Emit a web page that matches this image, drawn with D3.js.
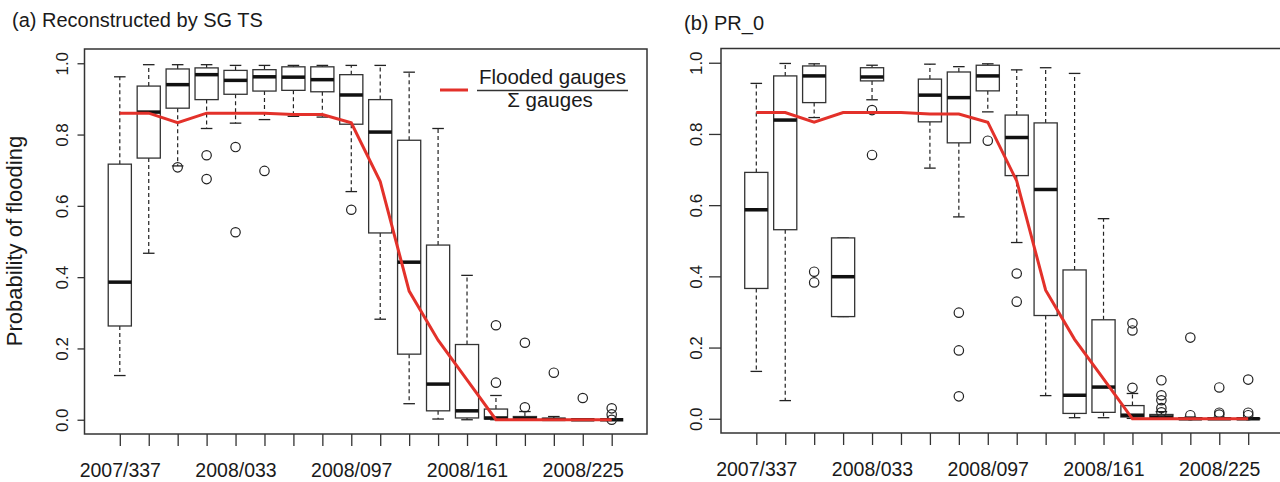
<!DOCTYPE html>
<html>
<head>
<meta charset="utf-8">
<script src="https://cdn.jsdelivr.net/npm/d3@7"></script>
<style>
body{margin:0;background:#fff;}
text{font-family:"Liberation Sans",Arial,sans-serif;fill:#1a1a1a;}
</style>
</head>
<body>
<script>
// 16-day composites
var dates = ["2007/337","2007/353","2008/001","2008/017","2008/033","2008/049","2008/065","2008/081","2008/097",
             "2008/113","2008/129","2008/145","2008/161","2008/177","2008/193","2008/209","2008/225","2008/241"];
// flooded gauges / total gauges
var ratio = [0.86,0.86,0.833,0.86,0.86,0.86,0.856,0.856,0.833,0.668,0.361,0.223,0.112,0,0,0,0,0];

// (a) Reconstructed by SG TS
var aLow  = [0.124,0.467,0.712,0.817,0.832,0.842,0.851,0.849,0.640,0.282,0.045,0.002,0.0,0.0,0,0,0,0];
var aQ1   = [0.263,0.734,0.874,0.898,0.913,0.922,0.924,0.920,0.829,0.524,0.184,0.025,0.005,0.002,0,0,0,0];
var aMed  = [0.386,0.863,0.940,0.968,0.952,0.962,0.961,0.954,0.911,0.807,0.442,0.100,0.025,0.005,0.003,0.001,0,0];
var aQ3   = [0.717,0.936,0.984,0.987,0.980,0.982,0.990,0.990,0.968,0.898,0.784,0.490,0.211,0.030,0.009,0.004,0.001,0];
var aHigh = [0.962,0.996,0.996,0.996,0.994,0.994,0.994,0.994,0.994,0.994,0.975,0.817,0.405,0.068,0.023,0.009,0.003,0];
var aOut  = [[],[],[0.708],[0.742,0.675],[0.765,0.526],[0.698],[],[],[0.589],[],[],[],[],
             [0.265,0.104],[0.216,0.035],[0.132],[0.061],[0.032,0.015,0.0]];

// (b) PR_0  (no box for 2008/049)
var bLow  = [0.133,0.051,0.846,0.287,0.896,null,0.704,0.567,0.862,0.495,0.065,0.003,0.003,0.001,0,0,0,0];
var bQ1   = [0.366,0.531,0.888,0.287,0.949,null,0.834,0.775,0.921,0.683,0.290,0.015,0.018,0.005,0,0,0,0];
var bMed  = [0.587,0.839,0.963,0.399,0.960,null,0.909,0.902,0.963,0.790,0.644,0.066,0.089,0.010,0.005,0,0,0];
var bQ3   = [0.692,0.963,0.991,0.508,0.986,null,0.954,0.974,0.993,0.853,0.831,0.418,0.278,0.037,0.012,0.003,0.002,0.001];
var bHigh = [0.942,0.998,0.997,0.508,0.993,null,0.996,0.989,0.997,0.980,0.986,0.970,0.562,0.071,0.020,0.005,0.004,0.002];
var bOut  = [[],[],[0.413,0.383],[],[0.867,0.741],[],[],[0.298,0.192,0.063],[0.781],[0.408,0.329],[],[],[],
             [0.268,0.248,0.087],[0.108,0.066,0.052,0.03,0.018],[0.228,0.01],[0.088,0.017,0.012],[0.11,0.017,0.01]];

var yTicks = [0,0.2,0.4,0.6,0.8,1.0];
var red = "#e3312a", ink = "#222";

var svg = d3.select("body").append("svg")
            .attr("width",1280)
            .attr("height",482);

function drawPanel(p){
    var g = svg.append("g");
    var x = d3.scaleLinear().domain([-0.22, dates.length + 1.22]).range([p.left, p.right]);
    var y = d3.scaleLinear().domain([-0.04, 1.04]).range([p.bottom, p.top]);
    var unit = x(2) - x(1);
    var bw = unit * 0.8;

    var boxes = dates.map(function(d,i){
        return {i:i+1, low:p.low[i], q1:p.q1[i], med:p.med[i], q3:p.q3[i], high:p.high[i], out:p.out[i]};
    }).filter(function(d){ return d.med != null; });

    var bx = g.selectAll(".box").data(boxes).enter().append("g").attr("class","box");
    // whiskers
    bx.append("line")
      .attr("x1",function(d){return x(d.i);}).attr("x2",function(d){return x(d.i);})
      .attr("y1",function(d){return y(d.q3);}).attr("y2",function(d){return y(d.high);})
      .attr("stroke",ink).attr("stroke-width",1.2).attr("stroke-dasharray","4,3");
    bx.append("line")
      .attr("x1",function(d){return x(d.i);}).attr("x2",function(d){return x(d.i);})
      .attr("y1",function(d){return y(d.q1);}).attr("y2",function(d){return y(d.low);})
      .attr("stroke",ink).attr("stroke-width",1.2).attr("stroke-dasharray","4,3");
    ["high","low"].forEach(function(k){
        bx.append("line")
          .attr("x1",function(d){return x(d.i) - bw/4;}).attr("x2",function(d){return x(d.i) + bw/4;})
          .attr("y1",function(d){return y(d[k]);}).attr("y2",function(d){return y(d[k]);})
          .attr("stroke",ink).attr("stroke-width",1.3);
    });
    bx.append("rect")
      .attr("x",function(d){return x(d.i) - bw/2;})
      .attr("width",bw)
      .attr("y",function(d){return y(d.q3);})
      .attr("height",function(d){return y(d.q1) - y(d.q3);})
      .attr("fill","#fff").attr("stroke","#333").attr("stroke-width",1.3);
    bx.append("line")
      .attr("x1",function(d){return x(d.i) - bw/2;}).attr("x2",function(d){return x(d.i) + bw/2;})
      .attr("y1",function(d){return y(d.med);}).attr("y2",function(d){return y(d.med);})
      .attr("stroke","#111").attr("stroke-width",3.5);
    bx.selectAll("circle").data(function(d){ return d.out.map(function(v){return {i:d.i, v:v};}); })
      .enter().append("circle")
      .attr("cx",function(d){return x(d.i);})
      .attr("cy",function(d){return y(d.v);})
      .attr("r",4.7)
      .attr("fill","none").attr("stroke",ink).attr("stroke-width",1.2);

    // flooded gauges ratio
    var line = d3.line().x(function(d,i){return x(i+1);}).y(function(d){return y(d);});
    g.append("path").datum(ratio)
      .attr("d",line)
      .attr("fill","none").attr("stroke",red).attr("stroke-width",3);

    // frame
    g.append("rect")
      .attr("x",p.left).attr("y",p.top)
      .attr("width",p.right - p.left).attr("height",p.bottom - p.top)
      .attr("fill","none").attr("stroke","#333").attr("stroke-width",1.5);

    var xAxis = g.append("g")
      .attr("transform","translate(0,"+p.bottom+")")
      .call(d3.axisBottom(x).tickValues(d3.range(1, dates.length+1))
             .tickSize(12).tickPadding(17)
             .tickFormat(function(d){ return (d-1) % 4 == 0 ? dates[d-1] : ""; }));
    xAxis.select(".domain").remove();
    xAxis.selectAll("line").attr("stroke","#333").attr("stroke-width",1.3);
    xAxis.selectAll("text").style("font-size","19.5px").attr("fill","#1a1a1a");

    var yAxis = g.append("g")
      .attr("transform","translate("+p.left+",0)")
      .call(d3.axisLeft(y).tickValues(yTicks).tickSize(p.ytick).tickFormat(d3.format(".1f")));
    yAxis.select(".domain").remove();
    yAxis.selectAll("line").attr("stroke","#333").attr("stroke-width",1.3);
    yAxis.selectAll("text")
      .attr("x",0).attr("dy",0)
      .attr("transform","translate("+(-p.ylab)+",0) rotate(-90)")
      .attr("text-anchor","middle")
      .style("font-size","17px").attr("fill","#1a1a1a");

    svg.append("text")
      .attr("x",p.titleX).attr("y",p.titleY)
      .style("font-size","20px")
      .text(p.title);
    return {x:x, y:y};
}

drawPanel({left:84.5, right:647, top:49, bottom:434, ytick:7, ylab:16.5,
           low:aLow, q1:aQ1, med:aMed, q3:aQ3, high:aHigh, out:aOut,
           title:"(a) Reconstructed by SG TS", titleX:12, titleY:27});
drawPanel({left:721, right:1283.5, top:48.5, bottom:433, ytick:12, ylab:19,
           low:bLow, q1:bQ1, med:bMed, q3:bQ3, high:bHigh, out:bOut,
           title:"(b) PR_0", titleX:684, titleY:30});

svg.append("text")
   .attr("transform","translate(22,241) rotate(-90)")
   .attr("text-anchor","middle")
   .style("font-size","22px").attr("fill","#333")
   .text("Probability of flooding");

// legend
var leg = svg.append("g");
leg.append("line").attr("x1",440).attr("x2",468).attr("y1",90).attr("y2",90)
   .attr("stroke",red).attr("stroke-width",3);
leg.append("line").attr("x1",477).attr("x2",628).attr("y1",90.5).attr("y2",90.5)
   .attr("stroke","#333").attr("stroke-width",1.5);
leg.append("text").attr("x",552.5).attr("y",84).attr("text-anchor","middle")
   .style("font-size","20.5px").text("Flooded gauges");
leg.append("text").attr("x",550).attr("y",107).attr("text-anchor","middle")
   .style("font-size","20.5px").text("Σ gauges");
</script>
</body>
</html>
